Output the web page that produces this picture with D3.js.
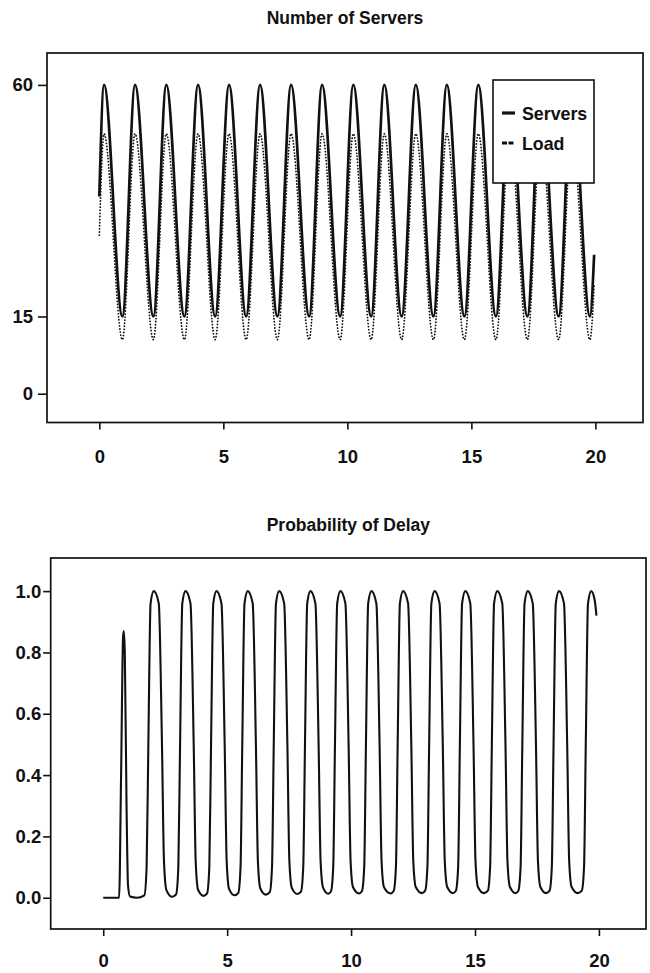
<!DOCTYPE html>
<html>
<head>
<meta charset="utf-8">
<script src="https://cdn.jsdelivr.net/npm/d3@7/dist/d3.min.js"></script>
<style>
  body { margin: 0; background: #fff; }
  svg { display: block; font-family: "Liberation Sans", Arial, Helvetica, sans-serif; }
</style>
</head>
<body>
<svg id="chart" width="650" height="973"></svg>
<script>
// ---- data ----
const timeTicks = [0, 5, 10, 15, 20];
const serverTicks = [0, 15, 60];
const delayTicks = [0, 0.2, 0.4, 0.6, 0.8, 1.0];

// Number of servers (solid): start, then peak / trough pairs, end
const serverTime = [0, 0.19, 0.93, 1.44, 2.18, 2.70, 3.43, 3.98, 4.67, 5.23, 5.92, 6.48, 7.18, 7.73,
  8.46, 8.98, 9.71, 10.24, 10.96, 11.49, 12.19, 12.76, 13.47, 14.01, 14.72, 15.28, 15.99, 16.54,
  17.26, 17.79, 18.52, 19.05, 19.78, 19.95];
const serverCount = [38.3, 60, 15, 60, 15, 60, 15, 60, 15, 60, 15, 60, 15, 60,
  15, 60, 15, 60, 15, 60, 15, 60, 15, 60, 15, 60, 15, 60,
  15, 60, 15, 60, 15, 27];

// Load (dotted)
const loadTime = serverTime;
const loadValue = [30.8, 50.5, 10.5, 50.5, 10.5, 50.5, 10.5, 50.5, 10.5, 50.5, 10.5, 50.5, 10.5, 50.5,
  10.5, 50.5, 10.5, 50.5, 10.5, 50.5, 10.5, 50.5, 10.5, 50.5, 10.5, 50.5, 10.5, 50.5,
  10.5, 50.5, 10.5, 50.5, 10.5, 21];

// Probability of delay (one row per cycle)
const delayTime = [
  0, 0.64, 0.72, 0.80, 0.83, 0.87, 0.94, 1.00, 1.08, 1.35,
  1.66, 1.75, 1.82, 1.91, 2.04, 2.24, 2.37, 2.45, 2.55, 2.78,
  2.94, 3.03, 3.10, 3.19, 3.32, 3.52, 3.65, 3.73, 3.83, 4.05,
  4.19, 4.28, 4.35, 4.44, 4.57, 4.77, 4.90, 4.98, 5.08, 5.30,
  5.45, 5.54, 5.61, 5.70, 5.83, 6.03, 6.16, 6.24, 6.34, 6.56,
  6.72, 6.81, 6.88, 6.97, 7.10, 7.30, 7.43, 7.51, 7.61, 7.83,
  7.98, 8.07, 8.14, 8.23, 8.36, 8.56, 8.69, 8.77, 8.87, 9.08,
  9.19, 9.28, 9.35, 9.44, 9.57, 9.77, 9.90, 9.98, 10.08, 10.32,
  10.44, 10.53, 10.60, 10.69, 10.82, 11.02, 11.15, 11.23, 11.33, 11.59,
  11.72, 11.81, 11.88, 11.97, 12.10, 12.30, 12.43, 12.51, 12.61, 12.86,
  12.99, 13.08, 13.15, 13.24, 13.37, 13.57, 13.70, 13.78, 13.88, 14.11,
  14.23, 14.32, 14.39, 14.48, 14.61, 14.81, 14.94, 15.02, 15.12, 15.36,
  15.52, 15.61, 15.68, 15.77, 15.90, 16.10, 16.23, 16.31, 16.41, 16.64,
  16.75, 16.84, 16.91, 17.00, 17.13, 17.33, 17.46, 17.54, 17.64, 17.87,
  18.01, 18.10, 18.17, 18.26, 18.39, 18.59, 18.72, 18.80, 18.90, 19.15,
  19.31, 19.40, 19.47, 19.56, 19.69, 19.83, 19.90
];
const delayProb = [
  0, 0, 0.40, 0.85, 0.87, 0.80, 0.30, 0.04, 0.004, 0,
  0.008, 0.1, 0.5, 0.96, 1.0, 0.96, 0.5, 0.12, 0.025, 0.003,
  0.011, 0.1, 0.5, 0.96, 1.0, 0.96, 0.5, 0.12, 0.025, 0.006,
  0.014, 0.1, 0.5, 0.96, 1.0, 0.96, 0.5, 0.12, 0.028, 0.008,
  0.016, 0.1, 0.5, 0.96, 1.0, 0.96, 0.5, 0.12, 0.030, 0.010,
  0.018, 0.1, 0.5, 0.96, 1.0, 0.96, 0.5, 0.12, 0.032, 0.012,
  0.020, 0.1, 0.5, 0.96, 1.0, 0.96, 0.5, 0.12, 0.033, 0.013,
  0.021, 0.1, 0.5, 0.96, 1.0, 0.96, 0.5, 0.12, 0.034, 0.014,
  0.022, 0.1, 0.5, 0.96, 1.0, 0.96, 0.5, 0.12, 0.034, 0.014,
  0.022, 0.1, 0.5, 0.96, 1.0, 0.96, 0.5, 0.12, 0.035, 0.015,
  0.023, 0.1, 0.5, 0.96, 1.0, 0.96, 0.5, 0.12, 0.035, 0.015,
  0.023, 0.1, 0.5, 0.96, 1.0, 0.96, 0.5, 0.12, 0.035, 0.015,
  0.023, 0.1, 0.5, 0.96, 1.0, 0.96, 0.5, 0.12, 0.035, 0.015,
  0.023, 0.1, 0.5, 0.96, 1.0, 0.96, 0.5, 0.12, 0.035, 0.015,
  0.023, 0.1, 0.5, 0.96, 1.0, 0.96, 0.5, 0.12, 0.035, 0.015,
  0.023, 0.1, 0.5, 0.96, 1.0, 0.97, 0.92
];

// ---- drawing ----
const svg = d3.select("#chart");
const ink = "#111";

function zip(xs, ys) {
  return xs.map((t, i) => ({ t: t, v: ys[i] }));
}

// draws frame, ticks, labels and title of one panel, returns the scales
function panel(opt) {
  const x = d3.scaleLinear().domain(opt.xDomain).range([opt.left, opt.right]);
  const y = d3.scaleLinear().domain(opt.yDomain).range([opt.bottom, opt.top]);

  svg.append("text")
    .attr("x", (opt.left + opt.right) / 2)
    .attr("y", opt.titleY)
    .attr("text-anchor", "middle")
    .attr("font-size", "17.5px")
    .attr("font-weight", "bold")
    .attr("fill", ink)
    .text(opt.title);

  const yAxis = svg.append("g")
    .attr("transform", `translate(${opt.left},0)`)
    .call(d3.axisLeft(y).tickValues(opt.yTicks).tickFormat(opt.yFormat)
      .tickSize(opt.yTickSize).tickPadding(opt.yTickPad));

  const xAxis = svg.append("g")
    .attr("transform", `translate(0,${opt.bottom})`)
    .call(d3.axisBottom(x).tickValues(timeTicks).tickFormat(d3.format("d"))
      .tickSize(7).tickPadding(opt.xTickPad));

  [yAxis, xAxis].forEach(a => {
    a.select(".domain").remove();
    a.selectAll("line").attr("stroke", ink).attr("stroke-width", 1.6);
    a.selectAll("text")
      .attr("fill", ink)
      .attr("font-size", "18.5px")
      .attr("font-weight", "bold")
      .attr("font-family", "'Liberation Sans', Arial, Helvetica, sans-serif");
  });

  svg.append("rect")
    .attr("x", opt.left)
    .attr("y", opt.top)
    .attr("width", opt.right - opt.left)
    .attr("height", opt.bottom - opt.top)
    .attr("fill", "none")
    .attr("stroke", ink)
    .attr("stroke-width", 1.7);

  return { x, y };
}

// Top: Number of Servers
const serversPanel = panel({
  title: "Number of Servers", titleY: 24,
  left: 47, right: 643, top: 53, bottom: 422.5,
  xDomain: [-2.11, 21.92], yDomain: [-5.6, 66.2],
  yTicks: serverTicks, yFormat: d3.format("d"),
  yTickSize: 9, yTickPad: 5, xTickPad: 20
});

const serversLine = d3.line()
  .x(d => serversPanel.x(d.t))
  .y(d => serversPanel.y(d.v))
  .curve(d3.curveMonotoneX);

svg.append("path")
  .datum(zip(serverTime, serverCount))
  .attr("d", serversLine)
  .attr("fill", "none")
  .attr("stroke", ink)
  .attr("stroke-width", 2.7)
  .attr("stroke-linejoin", "round");

svg.append("path")
  .datum(zip(loadTime, loadValue))
  .attr("d", serversLine)
  .attr("fill", "none")
  .attr("stroke", ink)
  .attr("stroke-width", 1.8)
  .attr("stroke-linecap", "round")
  .attr("stroke-dasharray", "0.1,3");

// legend box (drawn over the curves)
const legend = svg.append("g").attr("transform", "translate(493,80)");
legend.append("rect")
  .attr("width", 101)
  .attr("height", 103)
  .attr("fill", "#fff")
  .attr("stroke", ink)
  .attr("stroke-width", 1.6);

const legendItems = [
  { label: "Servers", y: 33, dash: null },
  { label: "Load", y: 63, dash: "5,1.5" }
];
legendItems.forEach(it => {
  legend.append("line")
    .attr("x1", 9).attr("x2", 22)
    .attr("y1", it.y).attr("y2", it.y)
    .attr("stroke", ink)
    .attr("stroke-width", 3.2)
    .attr("stroke-dasharray", it.dash);
  legend.append("text")
    .attr("x", 29)
    .attr("y", it.y + 6.5)
    .attr("font-size", "17.8px")
    .attr("font-weight", "bold")
    .attr("fill", ink)
    .text(it.label);
});

// Bottom: Probability of Delay
const delayPanel = panel({
  title: "Probability of Delay", titleY: 531,
  left: 50.7, right: 646, top: 558, bottom: 929,
  xDomain: [-2.12, 21.9], yDomain: [-0.102, 1.108],
  yTicks: delayTicks, yFormat: d3.format(".1f"),
  yTickSize: 7.5, yTickPad: 2, xTickPad: 17.5
});

const delayLine = d3.line()
  .x(d => delayPanel.x(d.t))
  .y(d => delayPanel.y(d.v))
  .curve(d3.curveMonotoneX);

svg.append("path")
  .datum(zip(delayTime, delayProb))
  .attr("d", delayLine)
  .attr("fill", "none")
  .attr("stroke", ink)
  .attr("stroke-width", 2.1)
  .attr("stroke-linejoin", "round");
</script>
</body>
</html>
